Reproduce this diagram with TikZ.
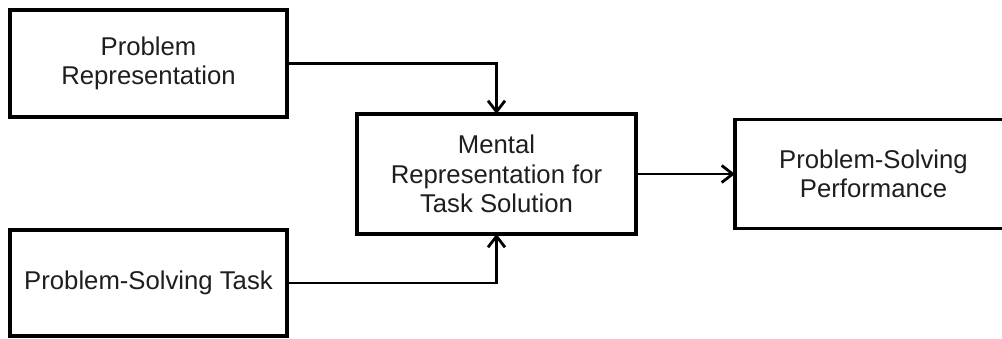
\documentclass[tikz,border=0pt]{standalone}
\usepackage{fontspec}
\setmainfont{Liberation Sans}
\usetikzlibrary{arrows.meta}
\definecolor{txt}{HTML}{1E1E1E}
\begin{document}
\begin{tikzpicture}[x=1pt,y=-1pt,
  box/.style={draw=black, line width=3.2pt, fill=white, inner sep=0pt, outer sep=0pt,
    align=center, text=txt, font=\fontsize{25.7}{29.5}\selectfont},
  link/.style={draw=black, line width=2.8pt,
    -{Straight Barb[length=11pt,width=17pt,line width=2.8pt]}}]
  \useasboundingbox (0,0) rectangle (1002,338);
  \clip (0,0) rectangle (1002,338);
  \fill[white] (0,0) rectangle (1002,338);

  % input boxes on the left
  \node[box, minimum width=277pt, minimum height=107pt] (rep) at (148.5,63.5)
    {Problem\\Representation};
  \node[box, minimum width=277pt, minimum height=106pt] (task) at (148.5,283)
    {Problem-Solving Task};
  % central box
  \node[box, minimum width=279pt, minimum height=120pt] (mental) at (496.5,174)
    {Mental\\Representation for\\Task Solution};
  % outcome box, running past the right edge
  \node[box, minimum width=277pt, minimum height=109pt] (perf) at (873.5,174)
    {Problem-Solving\\Performance};

  \draw[link] (rep.east) -| (mental.north);
  \draw[link] (task.east) -| (mental.south);
  \draw[link] (mental.east) -- (perf.west);
\end{tikzpicture}
\end{document}
